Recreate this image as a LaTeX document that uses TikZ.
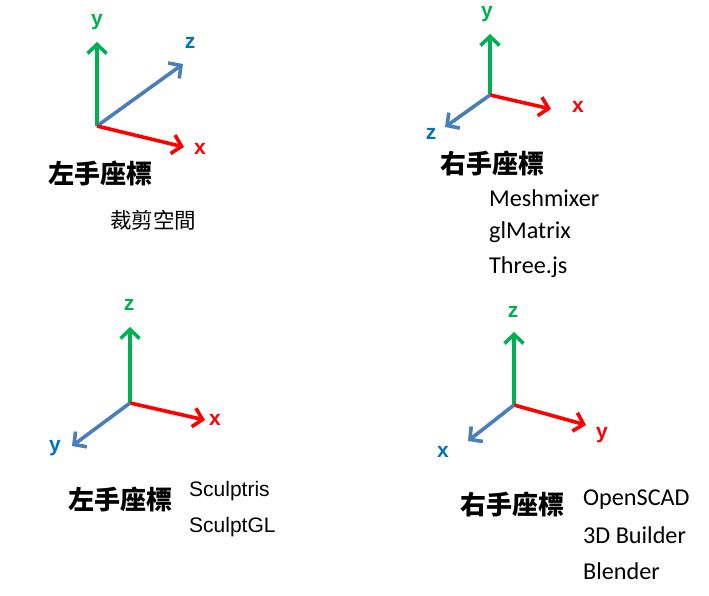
\documentclass[tikz,border=0pt]{standalone}
\usepackage{fontspec}
\setmainfont{Carlito}
\newfontfamily\arial{Liberation Sans}
\newfontfamily\cjk{Noto Sans CJK TC}
\usetikzlibrary{arrows.meta}
\definecolor{axgreen}{HTML}{00B050}
\definecolor{axred}{HTML}{FF0000}
\definecolor{axblue}{HTML}{4A7EBB}
\definecolor{lblblue}{HTML}{0070C0}
\begin{document}
\begin{tikzpicture}[x=1pt,y=-1pt,
  ax/.style={line width=3.6pt,-{Straight Barb[length=9pt,width=19pt,line width=3.6pt]}},
  lbl/.style={font=\arial\bfseries\fontsize{21}{23}\selectfont, inner sep=0pt},
  title/.style={font=\cjk\bfseries\fontsize{26}{28}\selectfont, anchor=west, inner sep=0pt},
  sub/.style={font=\cjk\fontsize{21.5}{23}\selectfont, anchor=west, inner sep=0pt},
  cal/.style={font=\fontsize{24.2}{26}\selectfont, anchor=west, inner sep=0pt},
  ari/.style={font=\arial\fontsize{21}{23}\selectfont, anchor=west, inner sep=0pt}]
\useasboundingbox (0,0) rectangle (709,595);
% diagram 1
\coordinate (o1) at (97,126);
\coordinate (y1) at (97,42);
\coordinate (z1) at (183,64);
\coordinate (x1) at (184,147);
\draw[ax,axgreen] (o1) -- (y1);
\draw[ax,axblue] (o1) -- (z1);
\draw[ax,axred] (o1) -- (x1);
\node[lbl,axgreen] (ly1) at (97,22) {y};
\node[lbl,lblblue] (lz1) at (190,43) {z};
\node[lbl,axred] (lx1) at (200,149) {x};
\node[title] (t1) at (48,173) {左手座標};
\node[sub] (s1) at (110,220) {裁剪空間};
% diagram 2
\coordinate (o2) at (490,95);
\coordinate (y2) at (490,34);
\coordinate (x2) at (551,109);
\coordinate (z2) at (445,127);
\draw[ax,axgreen] (o2) -- (y2);
\draw[ax,axred] (o2) -- (x2);
\draw[ax,axblue] (o2) -- (z2);
\node[lbl,axgreen] (ly2) at (487,14) {y};
\node[lbl,axred] (lx2) at (578,107) {x};
\node[lbl,lblblue] (lz2) at (431,134) {z};
\node[title] (t2) at (440,163) {右手座標};
\node[cal] (m2a) at (489,198) {Meshmixer};
\node[cal] (m2b) at (489,232) {glMatrix};
\node[cal] (m2c) at (489,267) {Three.js};
% diagram 3
\coordinate (o3) at (130,403);
\coordinate (z3) at (130,327);
\coordinate (x3) at (205,420);
\coordinate (y3) at (72,446);
\draw[ax,axgreen] (o3) -- (z3);
\draw[ax,axred] (o3) -- (x3);
\draw[ax,axblue] (o3) -- (y3);
\node[lbl,axgreen] (lz3) at (129,305) {z};
\node[lbl,axred] (lx3) at (215,420) {x};
\node[lbl,lblblue] (ly3) at (55,448) {y};
\node[title] (t3) at (68,499) {左手座標};
\node[ari] (m3a) at (189,491) {Sculptris};
\node[ari] (m3b) at (189,527) {SculptGL};
% diagram 4
\coordinate (o4) at (514,405);
\coordinate (z4) at (514,332);
\coordinate (y4) at (586,425);
\coordinate (x4) at (468,441);
\draw[ax,axgreen] (o4) -- (z4);
\draw[ax,axred] (o4) -- (y4);
\draw[ax,axblue] (o4) -- (x4);
\node[lbl,axgreen] (lz4) at (513,312) {z};
\node[lbl,axred] (ly4) at (602,435) {y};
\node[lbl,lblblue] (lx4) at (443,452) {x};
\node[title] (t4) at (460,504) {右手座標};
\node[cal] (m4a) at (583,500) {OpenSCAD};
\node[cal] (m4b) at (583,535) {3D Builder};
\node[cal] (m4c) at (583,571) {Blender};
\end{tikzpicture}
\end{document}
